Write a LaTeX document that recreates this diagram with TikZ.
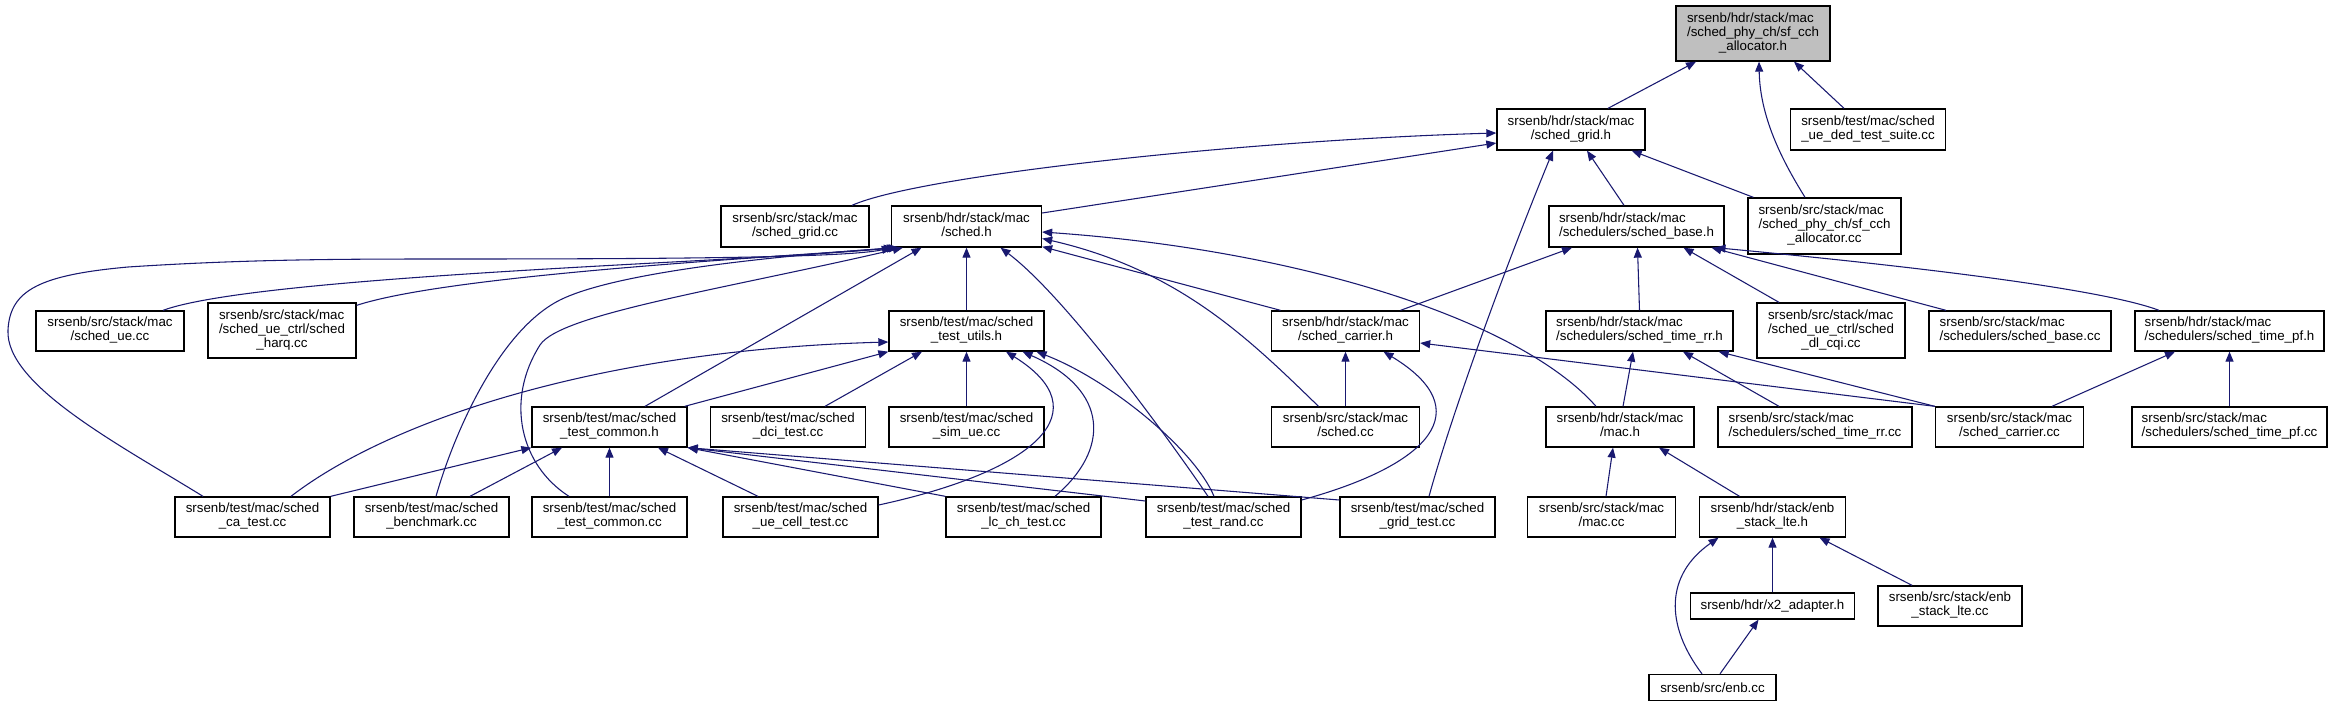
\documentclass[tikz,border=0pt]{standalone}
\usepackage{fontspec}
\setmainfont{Liberation Sans}
\usetikzlibrary{arrows.meta,calc}
\definecolor{edgeblue}{RGB}{25,25,112}
\definecolor{focusgray}{RGB}{191,191,191}
\newcommand{\dlabel}[2]{\begin{tabular}{@{}l@{}}#1\\\multicolumn{1}{@{}c@{}}{#2}\end{tabular}}
\begin{document}
\begin{tikzpicture}[x=0.75pt,y=-0.75pt,
  nd/.style={draw=black,line width=1pt,fill=white,inner sep=0pt,font=\fontsize{10}{10.5}\selectfont},
  wh/.style 2 args={minimum width=#1*0.75pt,minimum height=#2*0.75pt},
  edge/.style={draw=edgeblue,line width=0.8pt,-{Triangle[length=7.5pt,width=6pt]}}]
\fill[white] (0,0) rectangle (2333,707);
\useasboundingbox (0,0) rectangle (2333,707);
% row 0
\node[nd,wh={154}{55},fill=focusgray] (alloch) at (1753,33.5) {\dlabel{srsenb/hdr/stack/mac\\/sched\_phy\_ch/sf\_cch}{\_allocator.h}};
% row 1
\node[nd,wh={148}{41}] (gridh) at (1571,129.5) {\dlabel{srsenb/hdr/stack/mac}{/sched\_grid.h}};
\node[nd,wh={155}{41}] (dedsuite) at (1868,129.5) {\dlabel{srsenb/test/mac/sched}{\_ue\_ded\_test\_suite.cc}};
% row 2
\node[nd,wh={148}{41}] (gridcc) at (795,226.5) {\dlabel{srsenb/src/stack/mac}{/sched\_grid.cc}};
\node[nd,wh={150}{41}] (schedh) at (966.5,226.5) {\dlabel{srsenb/hdr/stack/mac}{/sched.h}};
\node[nd,wh={175}{41}] (baseh) at (1636.5,226.5) {\dlabel{srsenb/hdr/stack/mac}{/schedulers/sched\_base.h}};
\node[nd,wh={153}{56}] (alloccc) at (1824.5,226) {\dlabel{srsenb/src/stack/mac\\/sched\_phy\_ch/sf\_cch}{\_allocator.cc}};
% row 3
\node[nd,wh={148}{40}] (uecc) at (110,331) {\dlabel{srsenb/src/stack/mac}{/sched\_ue.cc}};
\node[nd,wh={148}{55}] (harq) at (282,330.5) {\dlabel{srsenb/src/stack/mac\\/sched\_ue\_ctrl/sched}{\_harq.cc}};
\node[nd,wh={155}{40}] (utilsh) at (966.5,331) {\dlabel{srsenb/test/mac/sched}{\_test\_utils.h}};
\node[nd,wh={148}{40}] (carrierh) at (1345.5,331) {\dlabel{srsenb/hdr/stack/mac}{/sched\_carrier.h}};
\node[nd,wh={187}{40}] (rrh) at (1639.5,331) {\dlabel{srsenb/hdr/stack/mac}{/schedulers/sched\_time\_rr.h}};
\node[nd,wh={148}{55}] (cqi) at (1831,330.5) {\dlabel{srsenb/src/stack/mac\\/sched\_ue\_ctrl/sched}{\_dl\_cqi.cc}};
\node[nd,wh={182}{40}] (basecc) at (2020,331) {\dlabel{srsenb/src/stack/mac}{/schedulers/sched\_base.cc}};
\node[nd,wh={189}{40}] (pfh) at (2229.5,331) {\dlabel{srsenb/hdr/stack/mac}{/schedulers/sched\_time\_pf.h}};
% row 4
\node[nd,wh={155}{40}] (commonh) at (609.5,427) {\dlabel{srsenb/test/mac/sched}{\_test\_common.h}};
\node[nd,wh={155}{40}] (dci) at (788,427) {\dlabel{srsenb/test/mac/sched}{\_dci\_test.cc}};
\node[nd,wh={155}{40}] (simue) at (966.5,427) {\dlabel{srsenb/test/mac/sched}{\_sim\_ue.cc}};
\node[nd,wh={148}{40}] (schedcc) at (1345.5,427) {\dlabel{srsenb/src/stack/mac}{/sched.cc}};
\node[nd,wh={148}{40}] (mach) at (1620,427) {\dlabel{srsenb/hdr/stack/mac}{/mac.h}};
\node[nd,wh={194}{40}] (rrcc) at (1815,427) {\dlabel{srsenb/src/stack/mac}{/schedulers/sched\_time\_rr.cc}};
\node[nd,wh={148}{40}] (carriercc) at (2009.5,427) {\dlabel{srsenb/src/stack/mac}{/sched\_carrier.cc}};
\node[nd,wh={195}{40}] (pfcc) at (2229.5,427) {\dlabel{srsenb/src/stack/mac}{/schedulers/sched\_time\_pf.cc}};
% row 5
\node[nd,wh={155}{40}] (catest) at (252.5,517) {\dlabel{srsenb/test/mac/sched}{\_ca\_test.cc}};
\node[nd,wh={155}{40}] (bench) at (431.5,517) {\dlabel{srsenb/test/mac/sched}{\_benchmark.cc}};
\node[nd,wh={155}{40}] (commoncc) at (609.5,517) {\dlabel{srsenb/test/mac/sched}{\_test\_common.cc}};
\node[nd,wh={155}{40}] (uecell) at (800.5,517) {\dlabel{srsenb/test/mac/sched}{\_ue\_cell\_test.cc}};
\node[nd,wh={155}{40}] (lcch) at (1023.5,517) {\dlabel{srsenb/test/mac/sched}{\_lc\_ch\_test.cc}};
\node[nd,wh={155}{40}] (rand) at (1223.5,517) {\dlabel{srsenb/test/mac/sched}{\_test\_rand.cc}};
\node[nd,wh={155}{40}] (gridtest) at (1417.5,517) {\dlabel{srsenb/test/mac/sched}{\_grid\_test.cc}};
\node[nd,wh={148}{40}] (maccc) at (1601.5,517) {\dlabel{srsenb/src/stack/mac}{/mac.cc}};
\node[nd,wh={146}{40}] (enbh) at (1772.5,517) {\dlabel{srsenb/hdr/stack/enb}{\_stack\_lte.h}};
% row 6
\node[nd,wh={164}{26}] (x2) at (1772.5,606) {srsenb/hdr/x2\_adapter.h};
\node[nd,wh={144}{40}] (enbcc) at (1950,606) {\dlabel{srsenb/src/stack/enb}{\_stack\_lte.cc}};
% row 7
\node[nd,wh={127}{26}] (enb) at (1712.5,687.5) {srsenb/src/enb.cc};

% edges into sf_cch_allocator.h
\draw[edge] ($(gridh.north)+(37,0)$) -- ($(alloch.south)+(-57,0)$);
\draw[edge] ($(alloccc.north)+(-19.5,0)$) .. controls (1785,165) and (1760,120) .. ($(alloch.south)+(6,0)$);
\draw[edge] ($(dedsuite.north)+(-24,0)$) -- ($(alloch.south)+(41,0)$);
% edges into sched_grid.h
\draw[edge] ($(gridcc.north)+(57,0)$) .. controls (920,175) and (1250,140) .. ($(gridh.west)+(0,3.5)$);
\draw[edge] ($(schedh.east)+(0,-13.5)$) -- ($(gridh.west)+(0,13.5)$);
\draw[edge] ($(gridtest.north)+(11.5,0)$) .. controls (1450,420) and (1500,280) .. ($(gridh.south)+(-18,0)$);
\draw[edge] ($(baseh.north)+(-12.5,0)$) -- ($(gridh.south)+(16,0)$);
\draw[edge] ($(alloccc.north west)+(6,0)$) -- ($(gridh.south east)+(-14,0)$);
% edges into sched.h
\draw[edge] ($(uecc.north)+(53,0)$) .. controls (260,275) and (750,262) .. ($(schedh.south west)+(3,0)$);
\draw[edge] ($(harq.north east)+(0,3)$) .. controls (450,275) and (760,258) .. ($(schedh.south west)+(6,0)$);
\draw[edge] ($(catest.north)+(-49.5,0)$) .. controls (120,445) and (5,385) .. (8,330)
  .. controls (10,290) and (40,275) .. (128,267) .. controls (250,259) and (350,259) .. (450,259)
  .. controls (700,259) and (850,257) .. ($(schedh.south west)+(1,0)$);
\draw[edge] ($(bench.north)+(4.5,0)$) .. controls (455,430) and (500,330) .. (560,300)
  .. controls (620,270) and (800,254) .. ($(schedh.south west)+(8,0)$);
\draw[edge] ($(commoncc.north)+(-40.5,0)$) .. controls (520,465) and (505,400) .. (540,345)
  .. controls (560,314) and (720,290) .. ($(schedh.south west)+(12,0)$);
\draw[edge] ($(commonh.north)+(35.5,0)$) -- ($(schedh.south)+(-45,0)$);
\draw[edge] (utilsh.north) -- (utilsh.north |- schedh.south);
\draw[edge] ($(rand.north)+(-15.5,0)$) .. controls (1180,455) and (1070,300) .. ($(schedh.south)+(34,0)$);
\draw[edge] ($(schedcc.north)+(-27,0)$) .. controls (1250,340) and (1180,270) .. ($(schedh.east)+(0,12)$);
\draw[edge] ($(carrierh.north)+(-65,0)$) -- ($(schedh.south east)+(0,-1)$);
\draw[edge] ($(mach.north)+(-24,0)$) .. controls (1520,320) and (1300,250) .. ($(schedh.east)+(0,5.5)$);
% edges into sched_test_utils.h
\draw[edge] ($(catest.north)+(38.5,0)$) .. controls (390,420) and (600,350) .. ($(utilsh.west)+(0,11)$);
\draw[edge] ($(commonh.north east)+(-3,0)$) -- (utilsh.south west);
\draw[edge] ($(dci.north)+(37,0)$) -- ($(utilsh.south)+(-44.5,0)$);
\draw[edge] (simue.north) -- (utilsh.south);
\draw[edge] ($(uecell.east)+(0,-12)$) .. controls (1040,470) and (1100,410) .. ($(utilsh.south)+(39.5,0)$);
\draw[edge] ($(lcch.north)+(31.5,0)$) .. controls (1110,450) and (1110,390) .. ($(utilsh.south)+(56,0)$);
\draw[edge] ($(rand.north)+(-9.5,0)$) .. controls (1195,450) and (1110,380) .. ($(utilsh.south)+(70,0)$);
% edges into sched_test_common.h
\draw[edge] (catest.north east) -- (commonh.south west);
\draw[edge] ($(bench.north)+(38.5,0)$) -- ($(commonh.south)+(-47.5,0)$);
\draw[edge] (commoncc.north) -- (commonh.south);
\draw[edge] ($(uecell.north)+(-42.5,0)$) -- ($(commonh.south)+(48.5,0)$);
\draw[edge] (lcch.north west) -- (commonh.south east);
\draw[edge] ($(rand.west)+(0,-16)$) -- (commonh.south east);
\draw[edge] ($(gridtest.west)+(0,-17)$) -- (commonh.south east);
% edges into sched_carrier.h
\draw[edge] (schedcc.north) -- (carrierh.south);
\draw[edge] ($(rand.east)+(0,-17)$) .. controls (1430,465) and (1480,410) .. ($(carrierh.south)+(38,0)$);
\draw[edge] (carriercc.north west) -- ($(carrierh.east)+(0,12)$);
% edges into sched_base.h
\draw[edge] ($(carrierh.north)+(55,0)$) -- ($(baseh.south)+(-64.5,0)$);
\draw[edge] (rrh.north) -- ($(baseh.south)+(1,0)$);
\draw[edge] ($(cqi.north)+(-52,0)$) -- ($(baseh.south)+(47,0)$);
\draw[edge] ($(basecc.north)+(-74,0)$) -- ($(baseh.south)+(75,0)$);
\draw[edge] ($(pfh.north)+(-70.5,0)$) .. controls (2100,288) and (1900,265) .. ($(baseh.south)+(79,0)$);
% edges into sched_time_rr.h
\draw[edge] ($(mach.north)+(3,0)$) -- ($(rrh.south)+(-6.5,0)$);
\draw[edge] ($(rrcc.north)+(-36,0)$) -- ($(rrh.south)+(43.5,0)$);
\draw[edge] (carriercc.north west) -- ($(rrh.south east)+(-15,0)$);
% edges into sched_time_pf.h
\draw[edge] ($(carriercc.north)+(42.5,0)$) -- ($(pfh.south)+(-54.5,0)$);
\draw[edge] (pfcc.north) -- (pfh.south);
% edges into mac.h
\draw[edge] ($(maccc.north)+(4.5,0)$) -- ($(mach.south)+(-7,0)$);
\draw[edge] ($(enbh.north)+(-33,0)$) -- ($(mach.south)+(39,0)$);
% edges into enb_stack_lte.h and x2_adapter.h
\draw[edge] (x2.north) -- (enbh.south);
\draw[edge] ($(enbcc.north)+(-38,0)$) -- ($(enbh.south)+(47,0)$);
\draw[edge] ($(enb.north)+(-10.5,0)$) .. controls (1665,625) and (1665,575) .. ($(enbh.south)+(-54,0)$);
\draw[edge] ($(enb.north)+(7.5,0)$) -- ($(x2.south)+(-14,0)$);
\end{tikzpicture}
\end{document}
